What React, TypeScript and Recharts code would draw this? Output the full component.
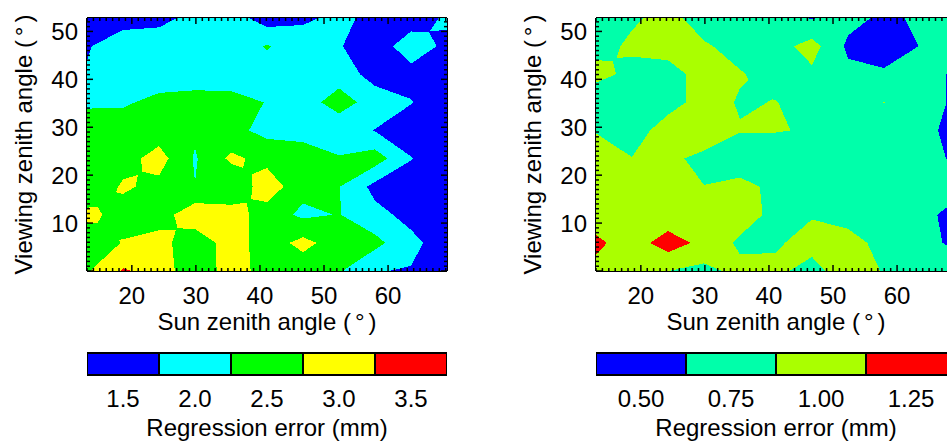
import React from "react";
import { Bar, BarChart, Label, Scatter, ScatterChart, XAxis, YAxis } from "recharts";

// grid nodes (degrees)
const sunZenith = [13, 18.62, 24.24, 29.86, 35.48, 41.1, 46.72, 52.34, 57.96, 63.58, 69.2];
const viewZenith = [0, 5.87, 11.73, 17.6, 23.47, 29.33, 35.2, 41.07, 46.93, 52.8];

// regression error (mm), one row per viewing zenith node, bottom row first
const leftError = [
  [2.7, 3.3, 3.1, 2.3, 3.05, 2.5, 2.45, 2.3, 1.77, 1.72, 1.45],
  [2.35, 2.78, 2.95, 2.4, 3.0, 2.5, 2.9, 2.5, 2.4, 1.88, 1.5],
  [2.9, 2.55, 2.5, 3.1, 3.0, 2.5, 2.15, 2.27, 1.9, 1.6, 1.45],
  [2.3, 2.82, 2.62, 2.26, 2.3, 3.05, 2.4, 2.27, 1.6, 1.5, 1.4],
  [2.5, 2.55, 2.95, 2.2, 2.85, 2.6, 2.46, 2.28, 2.5, 1.77, 1.4],
  [2.6, 2.45, 2.5, 2.33, 2.4, 2.1, 2.1, 2.02, 1.73, 1.5, 1.45],
  [2.15, 2.2, 2.35, 2.4, 2.35, 2.24, 2.1, 2.4, 2.1, 1.77, 1.45],
  [1.78, 2.0, 2.05, 2.05, 2.1, 2.1, 2.0, 2.1, 1.5, 1.6, 1.5],
  [1.72, 1.95, 1.95, 2.0, 2.05, 2.28, 2.05, 1.78, 1.5, 2.0, 1.65],
  [1.5, 1.6, 1.65, 1.85, 2.0, 1.5, 1.65, 1.88, 1.6, 1.52, 1.82],
];

const rightError = [
  [1.05, 0.95, 0.876, 0.81, 0.94, 0.92, 0.8, 1.0, 0.86, 0.78, 0.75],
  [1.18, 1.0, 1.25, 1.05, 0.83, 0.85, 0.95, 0.95, 0.81, 0.7, 0.58],
  [0.98, 0.95, 0.95, 0.95, 1.0, 0.8, 0.86, 0.8, 0.76, 0.74, 0.5],
  [0.95, 0.95, 0.95, 0.877, 0.93, 0.83, 0.876, 0.78, 0.75, 0.72, 0.74],
  [0.92, 0.88, 0.9, 0.845, 0.76, 0.75, 0.75, 0.75, 0.75, 0.69, 0.6],
  [0.87, 0.78, 0.97, 0.95, 0.885, 0.885, 0.86, 0.75, 0.72, 0.7, 0.55],
  [0.65, 0.75, 0.8, 0.95, 0.86, 0.88, 0.8, 0.78, 0.88, 0.75, 0.58],
  [0.97, 0.8, 0.8, 0.95, 0.89, 0.8, 0.83, 0.68, 0.66, 0.69, 0.6],
  [0.78, 0.92, 0.95, 0.9, 0.8, 0.78, 0.97, 0.58, 0.5, 0.63, 0.72],
  [0.8, 0.84, 0.95, 0.77, 0.75, 0.72, 0.61, 0.7, 0.58, 0.66, 0.72],
];

const leftLabels = ["1.5", "2.0", "2.5", "3.0", "3.5"];
const leftBreaks = [1.75, 2.25, 2.75, 3.25];
const leftColors = ["#0000ff", "#00ffff", "#00ff00", "#ffff00", "#ff0000"];

const rightLabels = ["0.50", "0.75", "1.00", "1.25"];
const rightBreaks = [0.625, 0.875, 1.125];
const rightColors = ["#0000ff", "#00ffaa", "#aaff00", "#ff0000"];

const xTicks = Array.from({ length: 57 }, (_, i) => 13 + i);
const yTicks = Array.from({ length: 53 }, (_, i) => i);

const FONT = "'Liberation Sans', Arial, Helvetica, sans-serif";
const X_DOMAIN: [number, number] = [13, 69.2];
const Y_DOMAIN: [number, number] = [0, 52.8];
const CH_W = 470;
const CH_H = 345;
const PL = 87;
const PT = 18;
const PW = 360;
const PH = 253;
const PX_X = PW / (X_DOMAIN[1] - X_DOMAIN[0]);
const PX_Y = PH / (Y_DOMAIN[1] - Y_DOMAIN[0]);
const AXIS = { stroke: "#000", strokeWidth: 2 };

type Pt = [number, number, number];

function buildCells(grid: number[][]) {
  const cells = [];
  for (let j = 0; j < viewZenith.length - 1; j++) {
    for (let i = 0; i < sunZenith.length - 1; i++) {
      cells.push({
        x: sunZenith[i],
        y: viewZenith[j],
        dx: sunZenith[i + 1] - sunZenith[i],
        dy: viewZenith[j + 1] - viewZenith[j],
        v: [grid[j][i], grid[j][i + 1], grid[j + 1][i + 1], grid[j + 1][i]],
      });
    }
  }
  return cells;
}

// walk the outline and keep the part where the value is >= t
function clipAbove(poly: Pt[], t: number): Pt[] {
  const out: Pt[] = [];
  for (let n = 0; n < poly.length; n++) {
    const p = poly[n];
    const q = poly[(n + 1) % poly.length];
    const pIn = p[2] >= t;
    const qIn = q[2] >= t;
    if (pIn) out.push(p);
    if (pIn !== qIn) {
      const f = (t - p[2]) / (q[2] - p[2]);
      out.push([p[0] + f * (q[0] - p[0]), p[1] + f * (q[1] - p[1]), t]);
    }
  }
  return out;
}

const toPath = (poly: Pt[]) =>
  poly.length < 3 ? "" : "M" + poly.map((p) => `${p[0].toFixed(2)},${p[1].toFixed(2)}`).join("L") + "Z";

function levelShape(t: number, color: string) {
  return (props: any) => {
    const { cx, cy, payload } = props;
    const w = payload.dx * PX_X;
    const h = payload.dy * PX_Y;
    const [v00, v10, v11, v01] = payload.v;
    const a: Pt = [cx, cy, v00];
    const b: Pt = [cx + w, cy, v10];
    const c: Pt = [cx + w, cy - h, v11];
    const d: Pt = [cx, cy - h, v01];
    const mid = (v00 + v10 + v11 + v01) / 4;
    const ins = [v00 >= t, v10 >= t, v11 >= t, v01 >= t];
    const saddle = ins[0] === ins[2] && ins[1] === ins[3] && ins[0] !== ins[1];
    let path = "";
    if (saddle && mid < t) {
      // separate the two high corners through the cell centre
      const m: Pt = [cx + w / 2, cy - h / 2, mid];
      for (const tri of [[a, b, m], [b, c, m], [c, d, m], [d, a, m]] as Pt[][]) path += toPath(clipAbove(tri, t));
    } else {
      path = toPath(clipAbove([a, b, c, d], t));
    }
    if (!path) return <g />;
    return <path d={path} fill={color} shapeRendering="crispEdges" />;
  };
}

function xTick(side: "bottom" | "top") {
  return (props: any) => {
    const { x, y, payload } = props;
    const v = payload.value;
    const major = v % 10 === 0;
    const dir = side === "bottom" ? -1 : 1;
    return (
      <g>
        <line x1={x} x2={x} y1={y} y2={y + dir * (major ? 6 : 3)} stroke="#000" strokeWidth={1.5} />
        {side === "bottom" && major && (
          <text x={x} y={y + 33} textAnchor="middle" fontSize={24} fontFamily={FONT} fill="#000">
            {v}
          </text>
        )}
      </g>
    );
  };
}

function yTick(side: "left" | "right") {
  return (props: any) => {
    const { x, y, payload } = props;
    const v = payload.value;
    const major = v % 10 === 0;
    const dir = side === "left" ? 1 : -1;
    return (
      <g>
        <line x1={x} x2={x + dir * (major ? 6 : 3)} y1={y} y2={y} stroke="#000" strokeWidth={1.5} />
        {side === "left" && major && v > 0 && (
          <text x={x - 9} y={y + 8.5} textAnchor="end" fontSize={24} fontFamily={FONT} fill="#000">
            {v}
          </text>
        )}
      </g>
    );
  };
}

function cbTick(labels: string[]) {
  return (props: any) => {
    const { x, y, index } = props;
    return (
      <text x={x} y={y + 31.7} textAnchor="middle" fontSize={24} fontFamily={FONT} fill="#000">
        {labels[index]}
      </text>
    );
  };
}

function ContourPanel({ grid, breaks, colors }: { grid: number[][]; breaks: number[]; colors: string[] }) {
  const cells = buildCells(grid);
  return (
    <ScatterChart width={CH_W} height={CH_H} margin={{ top: 8, right: 13, bottom: 14, left: 7 }}>
      {colors.map((col, k) => (
        <Scatter
          key={k}
          xAxisId="b"
          yAxisId="l"
          data={cells}
          shape={levelShape(k === 0 ? -Infinity : breaks[k - 1], col)}
          isAnimationActive={false}
        />
      ))}
      <XAxis
        xAxisId="b"
        type="number"
        dataKey="x"
        domain={X_DOMAIN}
        ticks={xTicks}
        interval={0}
        orientation="bottom"
        height={60}
        tickSize={0}
        tickMargin={0}
        tickLine={false}
        axisLine={AXIS}
        tick={xTick("bottom")}
        allowDataOverflow
      >
        <Label
          content={() => (
            <text x={PL + PW / 2} y={330} textAnchor="middle" fontSize={24} fontFamily={FONT} fill="#000">
              Sun zenith angle (<tspan dx={4}>°</tspan>
              <tspan dx={4}>)</tspan>
            </text>
          )}
        />
      </XAxis>
      <XAxis
        xAxisId="t"
        type="number"
        dataKey="x"
        domain={X_DOMAIN}
        ticks={xTicks}
        interval={0}
        orientation="top"
        height={10}
        tickSize={0}
        tickMargin={0}
        tickLine={false}
        axisLine={AXIS}
        tick={xTick("top")}
        allowDataOverflow
      />
      <YAxis
        yAxisId="l"
        type="number"
        dataKey="y"
        domain={Y_DOMAIN}
        ticks={yTicks}
        interval={0}
        orientation="left"
        width={80}
        tickSize={0}
        tickMargin={0}
        tickLine={false}
        axisLine={AXIS}
        tick={yTick("left")}
        allowDataOverflow
      >
        <Label
          content={() => (
            <text
              x={32}
              y={PT + PH / 2}
              transform={`rotate(-90, 32, ${PT + PH / 2})`}
              textAnchor="middle"
              fontSize={24}
              fontFamily={FONT}
              fill="#000"
            >
              Viewing zenith angle (<tspan dx={4}>°</tspan>
              <tspan dx={4}>)</tspan>
            </text>
          )}
        />
      </YAxis>
      <YAxis
        yAxisId="r"
        type="number"
        dataKey="y"
        domain={Y_DOMAIN}
        ticks={yTicks}
        interval={0}
        orientation="right"
        width={10}
        tickSize={0}
        tickMargin={0}
        tickLine={false}
        axisLine={AXIS}
        tick={yTick("right")}
        allowDataOverflow
      />
    </ScatterChart>
  );
}

function ColorBar({ labels, colors }: { labels: string[]; colors: string[] }) {
  const row: Record<string, number | string> = { name: "levels" };
  colors.forEach((_, k) => (row["s" + k] = 1));
  const centers = labels.map((_, k) => k + 0.5);
  return (
    <BarChart
      width={CH_W}
      height={101}
      layout="vertical"
      data={[row]}
      margin={{ top: 13, right: 23, bottom: 6, left: 87 }}
      barCategoryGap={0}
    >
      <XAxis
        type="number"
        domain={[0, labels.length]}
        ticks={centers}
        interval={0}
        height={60}
        tickSize={0}
        tickMargin={0}
        tickLine={false}
        axisLine={false}
        tick={cbTick(labels)}
        allowDataOverflow
      >
        <Label
          content={() => (
            <text x={PL + PW / 2} y={96} textAnchor="middle" fontSize={24} fontFamily={FONT} fill="#000">
              Regression error (mm)
            </text>
          )}
        />
      </XAxis>
      <YAxis type="category" dataKey="name" hide width={0} />
      {colors.map((c, k) => (
        <Bar key={k} dataKey={"s" + k} stackId="cb" fill={c} stroke="#000" strokeWidth={2} isAnimationActive={false} />
      ))}
    </BarChart>
  );
}

export default function App() {
  return (
    <div style={{ position: "absolute", left: 0, top: 0, width: 947, height: 441, overflow: "hidden", background: "#fff" }}>
      <div style={{ position: "absolute", left: 0, top: 0 }}>
        <ContourPanel grid={leftError} breaks={leftBreaks} colors={leftColors} />
      </div>
      <div style={{ position: "absolute", left: 509, top: 0 }}>
        <ContourPanel grid={rightError} breaks={rightBreaks} colors={rightColors} />
      </div>
      <div style={{ position: "absolute", left: 0, top: 340 }}>
        <ColorBar labels={leftLabels} colors={leftColors} />
      </div>
      <div style={{ position: "absolute", left: 509, top: 340 }}>
        <ColorBar labels={rightLabels} colors={rightColors} />
      </div>
    </div>
  );
}
